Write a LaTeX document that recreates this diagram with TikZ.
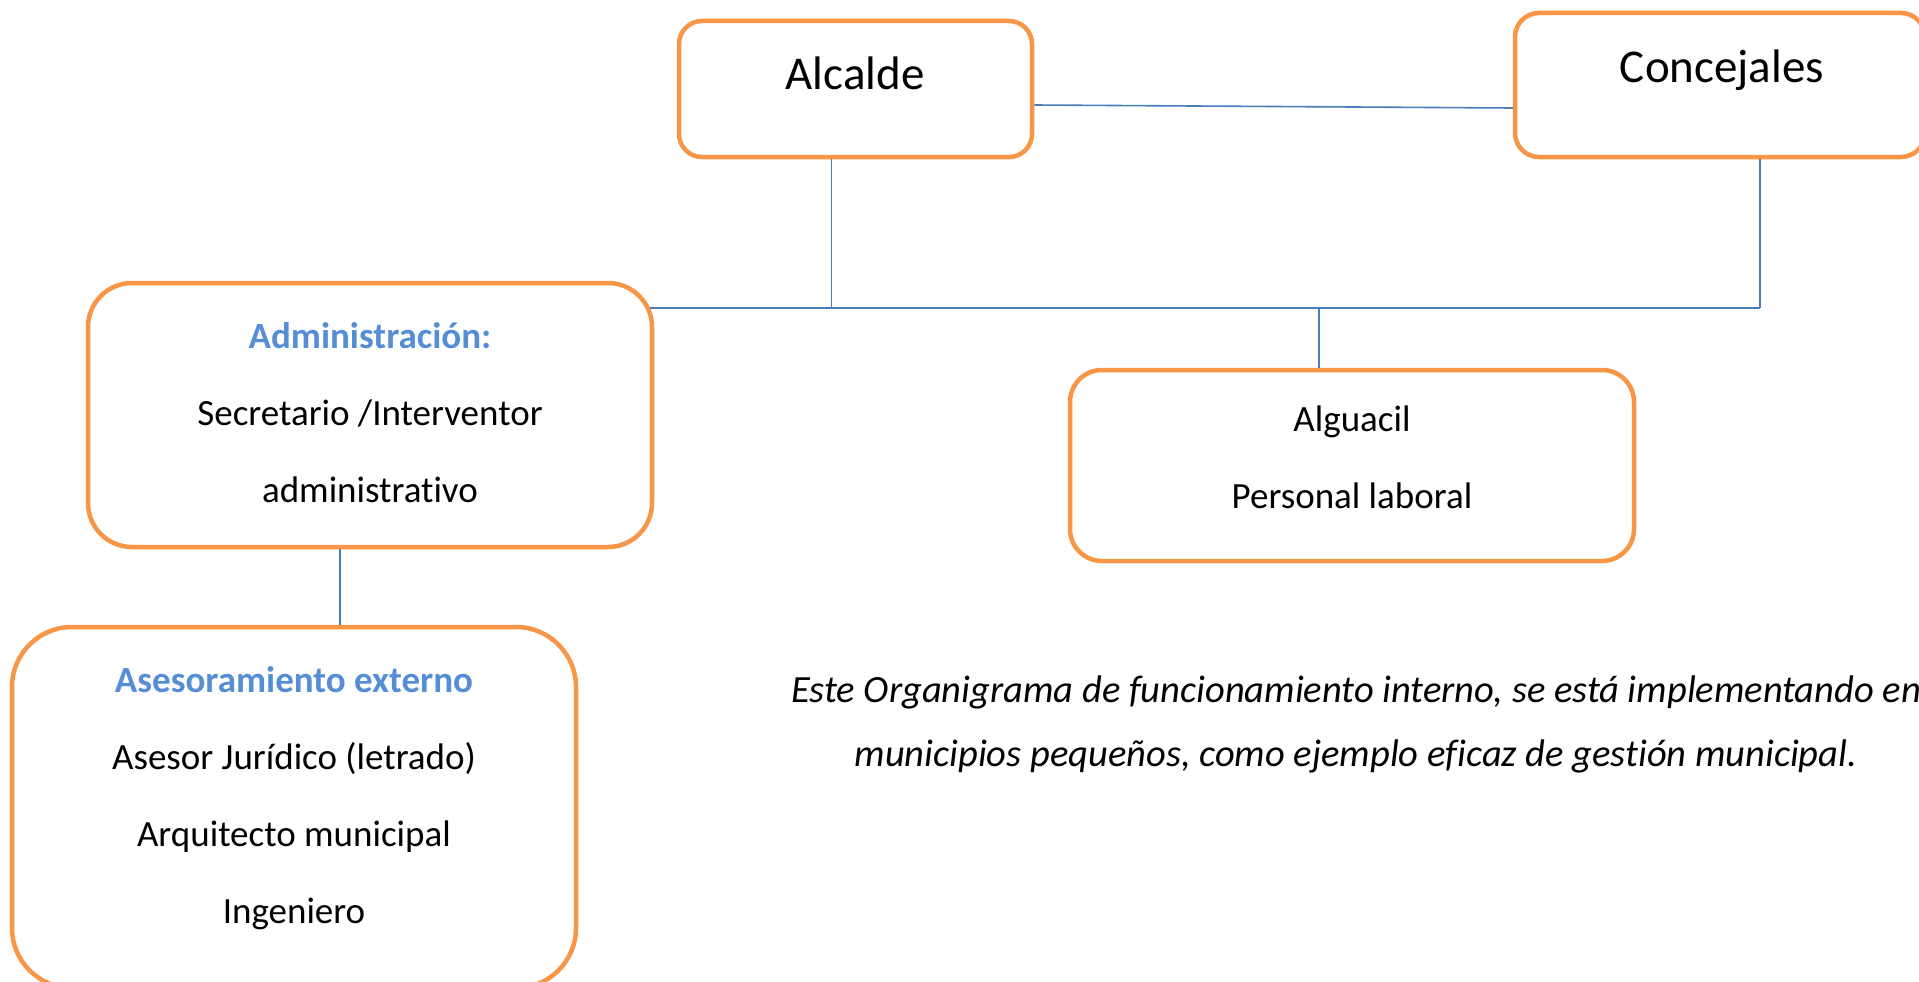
\documentclass[tikz,border=0pt]{standalone}
\usepackage{fontspec}
\setmainfont{Carlito}[Ligatures=NoCommon]
\usetikzlibrary{positioning}

\definecolor{boxorange}{HTML}{F79646}
\definecolor{linkblue}{HTML}{4A7EBB}
\definecolor{headblue}{HTML}{558ED5}

\tikzset{
	orgbox/.style={draw=boxorange, line width=4.5pt, fill=white, inner sep=0pt},
	link/.style={draw=linkblue, line width=1.6pt},
	bigtext/.style={font=\fontsize{47}{56}\selectfont, anchor=base},
	boxtext/.style={font=\fontsize{37}{77}\selectfont, align=center},
	headtext/.style={text=headblue, font=\bfseries},
}

\begin{document}
\begin{tikzpicture}[x=1pt, y=-1pt]
			\useasboundingbox (0,0) rectangle (1919,982);

			% boxes
			\node[orgbox, minimum width=353pt, minimum height=136pt, rounded corners=23pt] (alcalde) at (855.5,89) {};
			\node[orgbox, minimum width=410pt, minimum height=144pt, rounded corners=24pt] (concejales) at (1720,85) {};
			\node[orgbox, minimum width=564pt, minimum height=264pt, rounded corners=44pt] (admin) at (370,415) {};
			\node[orgbox, minimum width=564pt, minimum height=191pt, rounded corners=32pt] (alguacil) at (1352,465.5) {};
			\node[orgbox, minimum width=564pt, minimum height=361pt, rounded corners=60pt] (asesor) at (294,807.5) {};

			% texts
			\node[bigtext] (alcaldetxt) at (855,89) {Alcalde};
			\node[bigtext] (concejalestxt) at (1722,82) {Concejales};
			\node[boxtext] (admintxt) at (370,413) {\textcolor{headblue}{\bfseries Administración:}\\Secretario /Interventor\\administrativo};
			\node[boxtext] (alguaciltxt) at (1352,457) {Alguacil\\Personal laboral};
			\node[boxtext] (asesortxt) at (294,798) {\textcolor{headblue}{\bfseries Asesoramiento externo}\\Asesor Jurídico (letrado)\\Arquitecto municipal\\Ingeniero};
			\node[font=\fontsize{38.5}{64}\itshape\selectfont, align=center] (nota) at (1356,724) {Este Organigrama de funcionamiento interno, se está implementando en\\municipios pequeños, como ejemplo eficaz de gestión municipal.};

			% connectors
			\coordinate (bus) at (0,308);
			\draw[link] ([yshift=-16pt]alcalde.east) -- ([yshift=-23pt]concejales.west);
			\draw[link] ([xshift=-24pt]alcalde.south) -- ([xshift=-24pt]alcalde.south |- bus);
			\draw[link] ([xshift=40pt]concejales.south) -- ([xshift=40pt]concejales.south |- bus);
			\draw[link] ([xshift=-4pt]admin.east |- bus) -- ([xshift=40pt]concejales.south |- bus);
			\draw[link] ([xshift=-33pt]alguacil.north |- bus) -- ([xshift=-33pt]alguacil.north);
			\draw[link] ([xshift=-30pt]admin.south) -- ([xshift=-30pt]asesor.north -| admin.south);
		\end{tikzpicture}
\end{document}
